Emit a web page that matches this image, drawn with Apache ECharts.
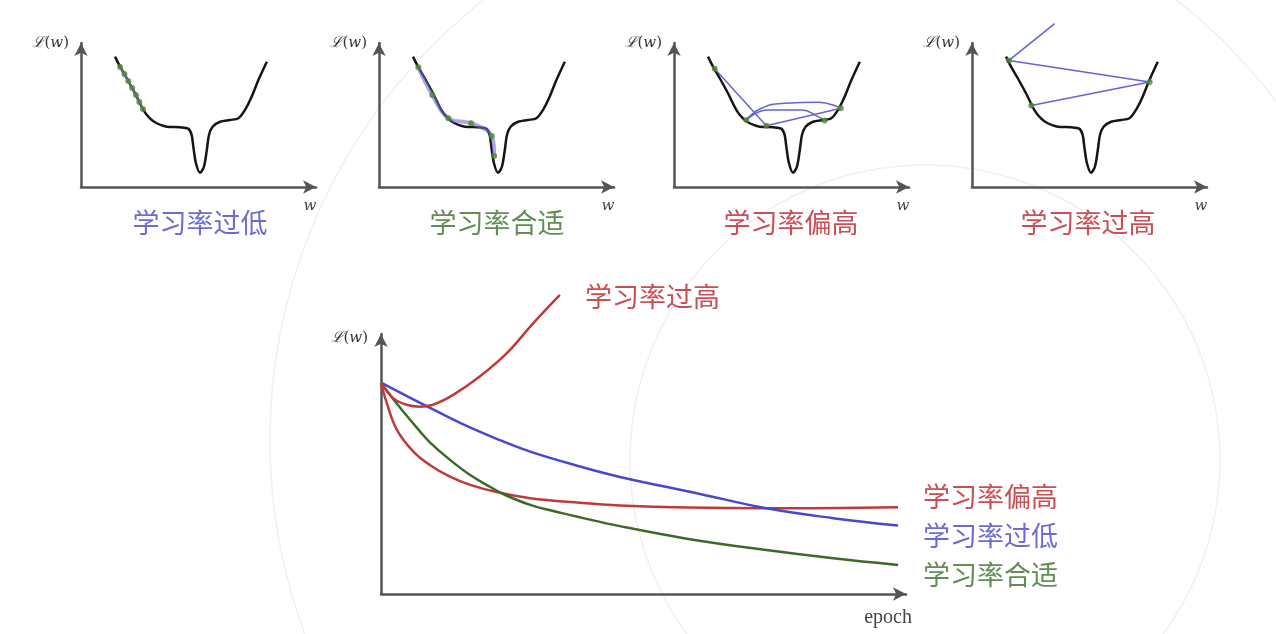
<!DOCTYPE html>
<html>
<head>
<meta charset="utf-8">
<script src="https://cdn.jsdelivr.net/npm/echarts@6/dist/echarts.min.js"></script>
<style>
html,body{margin:0;padding:0;background:#fff;}
#chart{width:1276px;height:634px;}
</style>
</head>
<body>
<div id="chart"></div>
<script>
// ---- loss landscape (shared by the four small panels) ----
const lossW = [1.41,1.62,1.90,2.24,2.59,2.86,3.14,3.56,4.11,4.45,4.59,4.66,4.77,4.94,5.10,5.22,5.31,5.46,5.77,6.18,6.53,6.80,7.08,7.36,7.71];
const lossL = [8.69,8.02,7.25,6.25,5.13,4.58,4.25,4.02,3.98,3.89,3.47,2.69,1.58,0.95,1.35,2.47,3.47,4.02,4.35,4.47,4.58,5.13,6.02,7.13,8.35];

// panel 1: learning rate too low
const lowStepW = [1.62,1.80,1.96,2.12,2.28,2.42,2.57];
const lowStepL = [8.00,7.53,7.07,6.60,6.13,5.67,5.20];
// panel 2: learning rate suitable
const fitStepW = [1.63,2.21,2.88,3.82,4.68,4.78];
const fitStepL = [7.98,6.13,4.58,4.25,3.40,2.07];
// panel 3: learning rate somewhat high
const hiDotW = [1.69,3.00,3.83,6.25,6.92];
const hiDotL = [7.89,4.47,4.09,4.43,5.25];
const hiSeg1W = [1.69,3.83]; const hiSeg1L = [7.89,4.09];
const hiSeg2W = [3.83,6.92]; const hiSeg2L = [4.09,5.25];
const hiArc1W = [6.92,5.98,4.59,3.63,3.00]; const hiArc1L = [5.25,5.65,5.58,5.25,4.47];
const hiArc2W = [3.00,3.90,5.29,5.98,6.25]; const hiArc2L = [4.47,5.13,5.13,4.69,4.43];
// panel 4: learning rate too high
const tooHiPathW = [2.46,7.37,1.535,3.43];
const tooHiPathL = [5.44,7.00,8.44,10.89];
const tooHiDotW = [2.46,7.37,1.535];
const tooHiDotL = [5.44,7.00,8.44];

// ---- bottom: loss vs epoch ----
const lowEpoch = [0,0.86,1.50,2.18,2.81,3.75,4.50,6.01,7.26,8.52,9.74];
const lowLoss  = [7.94,7.06,6.42,5.83,5.35,4.79,4.40,3.76,3.22,2.85,2.57];
const fitEpoch = [0,0.30,0.73,0.92,1.30,1.68,2.05,2.34,2.81,3.43,3.75,4.50,5.76,7.26,8.52,9.74];
const fitLoss  = [7.94,7.15,6.12,5.70,5.04,4.47,4.03,3.72,3.35,3.03,2.88,2.55,2.08,1.65,1.34,1.09];
const highEpoch = [0,0.11,0.30,0.61,0.92,1.30,1.68,2.18,2.81,3.75,4.50,5.76,7.26,9.74];
const highLoss  = [7.94,7.17,6.17,5.35,4.85,4.41,4.10,3.83,3.60,3.43,3.33,3.25,3.22,3.26];
const tooHighEpoch = [0,0.23,0.48,0.73,0.98,1.36,1.86,2.37,2.87,3.37];
const tooHighLoss  = [7.94,7.36,7.11,7.04,7.11,7.48,8.17,9.05,10.18,11.24];

const panelTitles = ['学习率过低','学习率合适','学习率偏高','学习率过高'];
const curveLabels = ['学习率过高','学习率偏高','学习率过低','学习率合适'];

const C_BLUE_T = '#6b6bd2', C_GREEN_T = '#648c55', C_RED_T = '#c94f55';
const C_RED = '#c03a3a', C_BLUE = '#4848cf', C_GREEN = '#3b6a26';
const DOT = '#4f8a2f', PATH = '#6464d0';
const CJK = '"Noto Sans CJK SC", sans-serif';

function pairs(xs, ys){ return xs.map((x,i)=>[x, ys[i]]); }

const lwName = {
  s:{fontFamily:'DejaVu Serif',fontStyle:'italic',fontSize:15,color:'#333'},
  n:{fontFamily:'DejaVu Serif',fontSize:15,color:'#333'},
  i:{fontFamily:'DejaVu Serif',fontStyle:'italic',fontSize:15,color:'#333'}
};
const axisLine = {symbol:['none','arrow'],symbolSize:[10,13],lineStyle:{color:'#555',width:2.5}};

const panelLeft = [81,379,674,972];
const grids = panelLeft.map(l=>({left:l,top:43,width:235,height:144}));
grids.push({left:381,top:334,width:525,height:260});

const xAxes = [], yAxes = [];
for (let i=0;i<4;i++){
  xAxes.push({gridIndex:i,type:'value',min:0,max:9.75,axisLine,axisTick:{show:false},axisLabel:{show:false},splitLine:{show:false},
    name:'w',nameLocation:'end',nameGap:-6,
    nameTextStyle:{fontFamily:'DejaVu Serif',fontStyle:'italic',fontSize:15,color:'#444',align:'center',verticalAlign:'top',padding:[12,0,0,0]}});
  yAxes.push({gridIndex:i,type:'value',min:0,max:9.6,axisLine,axisTick:{show:false},axisLabel:{show:false},splitLine:{show:false},
    name:'{s|ℒ}{n|(}{i|w}{n|)}',nameLocation:'end',nameGap:0,
    nameTextStyle:{rich:lwName,align:'right',verticalAlign:'middle',padding:[0,12,0,0]}});
}
xAxes.push({gridIndex:4,type:'value',min:0,max:9.89,axisLine,axisTick:{show:false},axisLabel:{show:false},splitLine:{show:false},
  name:'epoch',nameLocation:'end',nameGap:6,
  nameTextStyle:{fontFamily:'Liberation Serif',fontSize:20,color:'#444',align:'right',verticalAlign:'top',padding:[14,0,0,0]}});
yAxes.push({gridIndex:4,type:'value',min:0,max:9.77,axisLine,axisTick:{show:false},axisLabel:{show:false},splitLine:{show:false},
  name:'{s|ℒ}{n|(}{i|w}{n|)}',nameLocation:'end',nameGap:-4,
  nameTextStyle:{rich:lwName,align:'right',verticalAlign:'middle',padding:[0,13,0,0]}});

const series = [];
for (let i=0;i<4;i++){
  series.push({type:'line',xAxisIndex:i,yAxisIndex:i,data:pairs(lossW,lossL),smooth:0.3,symbol:'none',
    lineStyle:{color:'#151515',width:2.5},z:2});
}
function seg(i, xs, ys, opts){
  return Object.assign({type:'line',xAxisIndex:i,yAxisIndex:i,data:pairs(xs,ys),symbol:'none',
    lineStyle:{color:PATH,width:1.5},z:3,clip:false}, opts||{});
}
function dots(i, xs, ys, size){
  return {type:'scatter',xAxisIndex:i,yAxisIndex:i,data:pairs(xs,ys),symbolSize:size||6,itemStyle:{color:DOT},z:5};
}
// panel 1
series.push(seg(0, lowStepW, lowStepL, {lineStyle:{color:'#5858d4',width:2}}));
series.push(dots(0, lowStepW, lowStepL, 6));
// panel 2
series.push(seg(1, fitStepW, fitStepL, {smooth:0.4,lineStyle:{color:'rgba(110,110,215,0.6)',width:4}}));
series.push(dots(1, fitStepW, fitStepL, 6));
// panel 3
series.push(seg(2, hiSeg1W, hiSeg1L));
series.push(seg(2, hiSeg2W, hiSeg2L));
series.push(seg(2, hiArc1W, hiArc1L, {smooth:0.5}));
series.push(seg(2, hiArc2W, hiArc2L, {smooth:0.5}));
series.push(dots(2, hiDotW, hiDotL, 6));
// panel 4
series.push(seg(3, tooHiPathW, tooHiPathL));
series.push(dots(3, tooHiDotW, tooHiDotL, 6));
// bottom
function curve(xs, ys, color){
  return {type:'line',xAxisIndex:4,yAxisIndex:4,data:pairs(xs,ys),smooth:0.4,symbol:'none',clip:false,
    lineStyle:{color,width:2.5},z:3};
}
series.push(curve(highEpoch, highLoss, C_RED));
series.push(curve(lowEpoch, lowLoss, C_BLUE));
series.push(curve(fitEpoch, fitLoss, C_GREEN));
series.push(curve(tooHighEpoch, tooHighLoss, C_RED));

function txt(t, x, y, color, align){
  return {type:'text',x,y,silent:true,z:10,
    style:{text:t,fill:color,fontSize:27,fontFamily:CJK,align:align||'center',verticalAlign:'middle',
      textAlign:align||'center',textVerticalAlign:'middle'}};
}
function ring(cx,cy,r){
  return {type:'circle',shape:{cx,cy,r},silent:true,z:-10,style:{fill:'none',stroke:'#f0f0f0',lineWidth:1.5}};
}
const graphic = [
  ring(830,440,560), ring(925,460,295),
  txt(panelTitles[0],200,223,C_BLUE_T),
  txt(panelTitles[1],497,223,C_GREEN_T),
  txt(panelTitles[2],791,223,C_RED_T),
  txt(panelTitles[3],1088,223,C_RED_T),
  txt(curveLabels[0],585,297,C_RED_T,'left'),
  txt(curveLabels[1],923,497,C_RED_T,'left'),
  txt(curveLabels[2],923,536,C_BLUE_T,'left'),
  txt(curveLabels[3],923,575,C_GREEN_T,'left')
];

const chart = echarts.init(document.getElementById('chart'));
chart.setOption({
  animation:false,
  backgroundColor:'#fff',
  grid:grids, xAxis:xAxes, yAxis:yAxes, series, graphic
});
</script>
</body>
</html>
